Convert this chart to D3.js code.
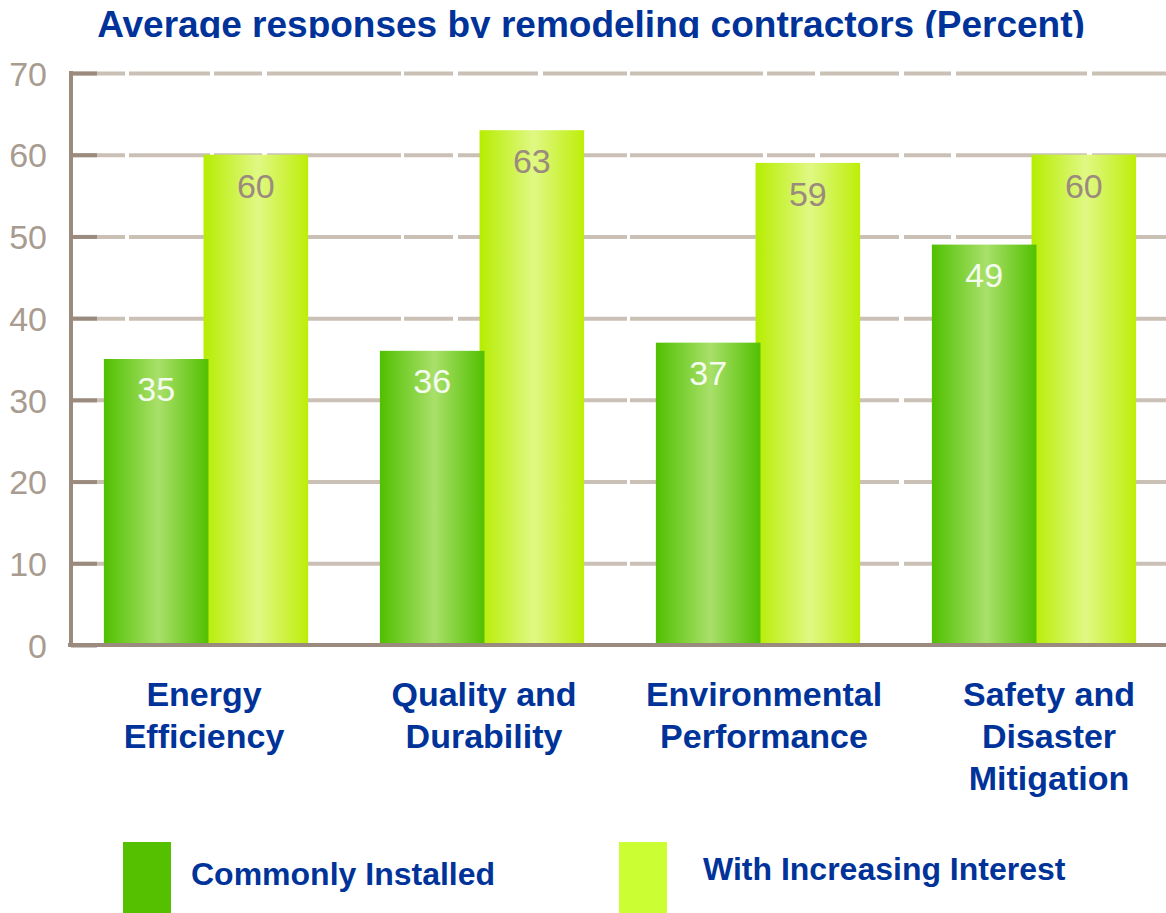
<html>
<head>
  <meta charset="utf-8" />
  <script src="https://cdnjs.cloudflare.com/ajax/libs/d3/7.8.5/d3.min.js"></script>
  <style>
    body { margin: 0; background: #fff; }
    .grid path.domain { stroke: none; }
    .grid .tick line { stroke: #cbc0b5; stroke-width: 4; }
    .yaxis path.domain { stroke: #9b8b7e; stroke-width: 4; }
    .yaxis .tick line { stroke: #9b8b7e; stroke-width: 4; }
    .yaxis .tick text, .barlabel {
      font-family: "Liberation Sans Narrow", "Arial Narrow", sans-serif;
      font-size: 34px;
    }
    .yaxis .tick text { fill: #a89b8f; }
    .xaxis path.domain { stroke: #9b8b7e; stroke-width: 4; }
    .blue { fill: #003399; font-family: "Liberation Sans", Arial, sans-serif; font-weight: bold; }
  </style>
</head>
<body>
  <svg></svg>
  <script>
    // chart data
    var categories = ["Energy\nEfficiency", "Quality and\nDurability", "Environmental\nPerformance", "Safety and\nDisaster\nMitigation"];
    var seriesNames = ["Commonly Installed", "With Increasing Interest"];
    var commonlyInstalled = [35, 36, 37, 49];
    var increasingInterest = [60, 63, 59, 60];
    var yTicks = [0, 10, 20, 30, 40, 50, 60, 70];
    var title = "Average responses by remodeling contractors (Percent)";

    var W = 1166, H = 913;
    var svg = d3.select("svg").attr("width", W).attr("height", H);

    var x0 = 71, x1 = 1166;
    var y = d3.scaleLinear().domain([0, 70]).range([645, 73]);
    var x = d3.scaleBand().domain(categories).range([68, 1172]).paddingInner(0.26).paddingOuter(0.13);
    var bw = x.bandwidth();
    var barW = bw * 0.512;
    // the category text boxes sit a little off the bar centres in the original
    var labelShift = [-2, 2, 6, 15];

    var defs = svg.append("defs");
    function grad(id, edge, mid, edge2) {
      var g = defs.append("linearGradient").attr("id", id).attr("x1", "0%").attr("x2", "100%");
      g.append("stop").attr("offset", "0%").attr("stop-color", edge);
      g.append("stop").attr("offset", "52%").attr("stop-color", mid);
      g.append("stop").attr("offset", "100%").attr("stop-color", edge2);
    }
    grad("gGreen", "#50c000", "#a9e06a", "#52c000");
    grad("gLime", "#b6ed00", "#e0f884", "#bdee08");
    defs.append("clipPath").attr("id", "titleClip")
      .append("rect").attr("x", 0).attr("y", 0).attr("width", W).attr("height", 38);

    // title (cut at the bottom like the original)
    svg.append("text").attr("class", "blue")
      .attr("clip-path", "url(#titleClip)")
      .attr("x", 591).attr("y", 36.5)
      .attr("text-anchor", "middle")
      .style("font-size", "37px")
      .text(title);

    // gridlines
    svg.append("g").attr("class", "grid")
      .attr("transform", "translate(" + x0 + ",0)")
      .call(d3.axisRight(y).tickValues(yTicks.slice(1)).tickSize(x1 - x0).tickFormat(""))
      .selectAll(".tick line")
      .attr("stroke-dasharray", "54,4,81,4,48,5,134,3,49,5,80,5,84,3,133,4,48,5,79,5,47,5,131,5,80");

    // y axis, ticks point into the plot
    var yAxis = svg.append("g").attr("class", "yaxis")
      .attr("transform", "translate(" + x0 + ",0)")
      .call(d3.axisLeft(y).tickValues(yTicks).tickSize(-26).tickSizeOuter(0).tickPadding(24));
    yAxis.select(".domain").attr("d", "M0," + (y(70) - 2) + "V" + y(0));
    yAxis.selectAll(".tick text").attr("dy", "0.36em");

    var groups = svg.append("g").selectAll("g")
      .data(categories)
      .join("g")
      .attr("transform", d => "translate(" + x(d) + ",0)");

    // lime bars first, green bars overlap them
    groups.append("rect")
      .attr("x", bw - barW)
      .attr("width", barW)
      .attr("y", (d, i) => y(increasingInterest[i]))
      .attr("height", (d, i) => y(0) - 2 - y(increasingInterest[i]))
      .attr("fill", "url(#gLime)");
    groups.append("rect")
      .attr("x", 0)
      .attr("width", barW)
      .attr("y", (d, i) => y(commonlyInstalled[i]))
      .attr("height", (d, i) => y(0) - 2 - y(commonlyInstalled[i]))
      .attr("fill", "url(#gGreen)");

    groups.append("text").attr("class", "barlabel")
      .attr("x", barW / 2)
      .attr("y", (d, i) => y(commonlyInstalled[i]) + 42)
      .attr("text-anchor", "middle")
      .attr("fill", "#f4fbef")
      .text((d, i) => commonlyInstalled[i]);
    groups.append("text").attr("class", "barlabel")
      .attr("x", bw - barW / 2)
      .attr("y", (d, i) => y(increasingInterest[i]) + 43)
      .attr("text-anchor", "middle")
      .attr("fill", "#9b8b7e")
      .text((d, i) => increasingInterest[i]);

    // x axis with wrapped category names
    var xAxis = svg.append("g").attr("class", "xaxis")
      .attr("transform", "translate(0," + y(0) + ")")
      .call(d3.axisBottom(x).tickSize(0).tickSizeOuter(0));
    xAxis.select(".domain").attr("d", "M" + (x0 - 3) + ",0H" + x1);
    xAxis.selectAll(".tick text").each(function (d, k) {
      var t = d3.select(this).text(null)
        .attr("class", "blue").attr("y", 61).attr("dy", null)
        .style("font-size", "34px");
      d.split("\n").forEach(function (line, i) {
        t.append("tspan").attr("x", labelShift[k]).attr("dy", i ? 42 : 0).text(line);
      });
    });

    // legend
    var legendX = [123, 619], legendTextX = [191, 703], legendBase = [885, 880];
    var legendColors = ["#55c000", "#ccff33"];
    var leg = svg.append("g").selectAll("g").data(seriesNames).join("g");
    leg.append("rect")
      .attr("x", (d, i) => legendX[i]).attr("y", 842)
      .attr("width", 48).attr("height", 75)
      .attr("fill", (d, i) => legendColors[i]);
    leg.append("text").attr("class", "blue")
      .attr("x", (d, i) => legendTextX[i]).attr("y", (d, i) => legendBase[i])
      .style("font-size", "32px")
      .text(d => d);
  </script>
</body>
</html>
